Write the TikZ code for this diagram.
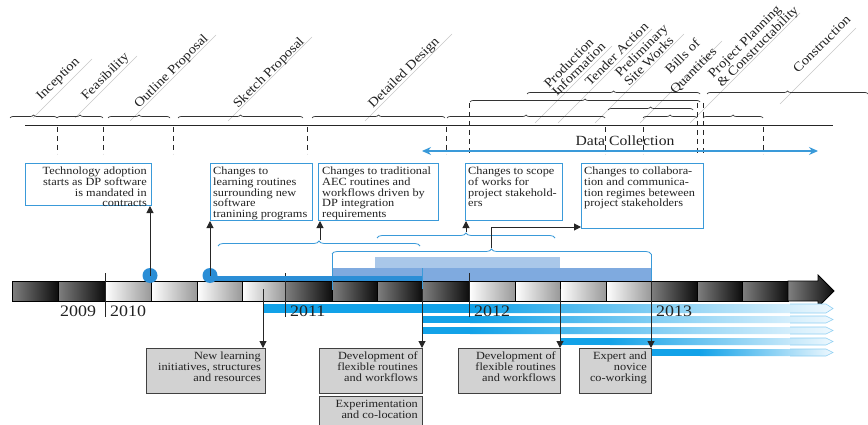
\documentclass[tikz,border=0pt]{standalone}
\usepackage{fontspec}
\setmainfont{Liberation Serif}[FakeStretch=1.12]
\usetikzlibrary{decorations.pathreplacing,arrows.meta,calc}
\definecolor{bblue}{HTML}{3A9AD9}
\definecolor{dotblue}{HTML}{2B8ED6}
\definecolor{lightreg}{HTML}{A9C7E9}
\definecolor{medreg}{HTML}{7FAADF}
\definecolor{barblue}{HTML}{12A2E8}
\definecolor{barpale}{HTML}{EEF8FE}
\definecolor{barline}{HTML}{8FCFF2}
\definecolor{gbox}{HTML}{D2D2D2}
\definecolor{txt}{HTML}{222222}
\begin{document}
\begin{tikzpicture}[x=1pt,y=-1pt,
  hdrbrace/.style={decorate, decoration={brace, amplitude=3pt}, line width=0.7pt, black!80},
  bluebrace/.style={decorate, decoration={brace, amplitude=5pt}, line width=0.8pt, bblue},
  phasetxt/.style={rotate=45, anchor=base west, inner sep=0, font=\fontsize{13}{13}\selectfont, text=txt},
  faint/.style={black!22, line width=0.4pt},
  vdash/.style={dash pattern=on 5pt off 4pt, line width=0.8pt, black!85},
  bluebox/.style={draw=bblue, line width=1pt, fill=white, anchor=north west, inner sep=0},
  boxtxt/.style={inner sep=0, font=\fontsize{11}{10.6}\selectfont, text=txt},
  graybox/.style={draw=black!75, fill=gbox, line width=1pt, anchor=north west, inner sep=0},
  darkseg/.style={left color=black!50, right color=black!95, draw=black, line width=0.8pt},
  lightseg/.style={left color=white, right color=black!40, draw=black, line width=0.8pt},
  arr/.style={-{Triangle[length=7pt,width=7pt]}, line width=1pt, black!85},
  yeartxt/.style={anchor=base west, inner sep=0, font=\fontsize{16}{16}\selectfont, text=txt},
  bluevert/.style={bblue, line width=1pt}
]
\useasboundingbox (0,0) rectangle (868,425);

% ---------------- header: phases ----------------
\draw[faint] (33,118) -- (92,59);
\draw[faint] (75,118) -- (137,56);
\draw[faint] (130,121) -- (216,35);
\draw[faint] (228,121) -- (312,37);
\draw[faint] (365,121) -- (452,34);
\draw[faint] (535,123) -- (612,46);
\draw[faint] (558,123) -- (652,29);
\draw[faint] (595,123) -- (684,34);
\draw[faint] (640,123) -- (722,41);
\draw[faint] (690,123) -- (800,13);
\draw[faint] (780,104) -- (856,28);

\node[phasetxt] (pInc) at (41,101) {Inception};
\node[phasetxt] (pFea) at (86,101) {Feasibility};
\node[phasetxt] (pOut) at (139,109) {Outline Proposal};
\node[phasetxt] (pSke) at (238,109) {Sketch Proposal};
\node[phasetxt] (pDet) at (373,109) {Detailed Design};
\node[phasetxt] (pPro1) at (549,89) {Production};
\node[phasetxt] (pPro2) at (557,97) {Information};
\node[phasetxt] (pTen) at (590,87) {Tender Action};
\node[phasetxt] (pPre1) at (620,78) {Preliminary};
\node[phasetxt] (pPre2) at (629,87) {Site Works};
\node[phasetxt] (pBil1) at (670,75) {Bills of};
\node[phasetxt] (pBil2) at (675,95) {Quantities};
\node[phasetxt] (pPrj1) at (713,79) {Project Planning};
\node[phasetxt] (pPrj2) at (722,88) {\& Constructability};
\node[phasetxt] (pCon) at (798,74) {Construction};

\draw[hdrbrace] (10,118) -- (57,118);
\draw[hdrbrace] (57,118) -- (103,118);
\draw[hdrbrace] (108,118) -- (170,118);
\draw[hdrbrace] (178,118) -- (303,118);
\draw[hdrbrace] (312,118) -- (445,118);
\draw[hdrbrace] (447,118) -- (605,118);
\draw[hdrbrace] (643,118) -- (697,118);
\draw[hdrbrace] (703,118) -- (763,118);
\draw[hdrbrace] (608,110) -- (693,110);
\draw[hdrbrace] (470,102) -- (700,102);
\draw[hdrbrace] (527,94) -- (700,94);
\draw[hdrbrace] (707,94) -- (868,94);

\draw[black!85, line width=1pt] (25,126) -- (833,126);

\foreach \x in {57,103,173,307,446,605,643,763}
  \draw[vdash] (\x,127) -- (\x,154);
\foreach \x in {469,697,703}
  \draw[vdash] (\x,103) -- (\x,154);

% Data collection
\coordinate (dcL) at (422,151);
\coordinate (dcR) at (818,151);
\draw[bblue, line width=1.2pt, {Stealth[length=9pt,width=8pt]}-{Stealth[length=9pt,width=8pt]}] (dcL) -- (dcR);
\node[anchor=base, inner sep=0, font=\fontsize{14}{14}\selectfont, text=txt] (dclab) at (625,146) {Data Collection};

% ---------------- blue boxes ----------------
\node[bluebox, minimum width=126pt, minimum height=42pt] (b1) at (25,163) {};
\node[boxtxt, align=right, anchor=north east] (t1) at (147,167) {Technology adoption\\starts as DP software\\is mandated in\\contracts};
\node[bluebox, minimum width=102pt, minimum height=57pt] (b2) at (210,163) {};
\node[boxtxt, align=left, anchor=north west] (t2) at (213,167) {Changes to\\learning routines\\surrounding new\\software\\tranining programs};
\node[bluebox, minimum width=120pt, minimum height=57pt] (b3) at (318,163) {};
\node[boxtxt, align=left, anchor=north west] (t3) at (322,167) {Changes to traditional\\AEC routines and\\workflows driven by\\DP integration\\requirements};
\node[bluebox, minimum width=97pt, minimum height=57pt] (b4) at (465,163) {};
\node[boxtxt, align=left, anchor=north west] (t4) at (468,167) {Changes to scope\\of works for\\project stakehold-\\ers};
\node[bluebox, minimum width=122pt, minimum height=65pt] (b5) at (581,163) {};
\node[boxtxt, align=left, anchor=north west] (t5) at (584,167) {Changes to collabora-\\tion and communica-\\tion regimes beteween\\project stakeholders};

% ---------------- blue regions above bar ----------------
\fill[lightreg] (375,257) rectangle (560,268);
\fill[medreg] (332,268) rectangle (651,281);
\draw[bluebrace] (218,246) -- (420,246);
\draw[bluebrace] (377,238) -- (555,238);
\draw[bluebrace] (332,254) -- (651,254);
\coordinate (brA) at (320,240);
\coordinate (brB) at (466,232);
\coordinate (brC) at (491,248);

% ---------------- timeline bar ----------------
\foreach \a/\b in {12/58,58/105,285/332,332/377,377/422,422/469,651/697,697/742,742/788}
  \shadedraw[darkseg] (\a,281) rectangle (\b,301);
\foreach \a/\b in {105/151,151/197,197/242,242/285,469/515,515/560,560/606,606/651}
  \shadedraw[lightseg] (\a,281) rectangle (\b,301);
\shadedraw[darkseg] (788,281) -- (818,281) -- (818,275) -- (834,291) -- (818,307) -- (818,301) -- (788,301) -- cycle;

% ---------------- lower bars ----------------
\foreach \x/\s/\ya/\yb in {263/470/304/313, 422/470/316/323, 422/470/327/334, 560/610/338/345, 651/700/349/356}{
  \fill[barblue] (\x,\ya) rectangle (\s,\yb);
  \shade[left color=barblue, right color=barpale] (\s,\ya) -- (826,\ya) -- (833,{(\ya+\yb)/2}) -- (826,\yb) -- (\s,\yb) -- cycle;
  \draw[barline, line width=0.6pt] (790,\ya) -- (826,\ya) -- (833,{(\ya+\yb)/2}) -- (826,\yb) -- (790,\yb);
}

% year ticks and labels
\foreach \x in {105,285,469}
  \draw[black!85, line width=0.9pt] (\x,273) -- (\x,317);
\node[yeartxt] (y09) at (60,316) {2009};
\node[yeartxt] (y10) at (110,316) {2010};
\node[yeartxt] (y11) at (290,316) {2011};
\node[yeartxt] (y12) at (474,316) {2012};
\node[yeartxt] (y13) at (656,316) {2013};

% blue verticals and line
\draw[bluevert] (332,254) -- (332,290);
\draw[bluevert] (651,254) -- (651,300);
\draw[bluevert] (422,268) -- (422,292);
\draw[dotblue, line width=5pt] (210,278) -- (422,278);
\node[circle, fill=dotblue, minimum size=15pt, inner sep=0] (dot1) at (150,275.5) {};
\node[circle, fill=dotblue, minimum size=15pt, inner sep=0] (dot2) at (210,275.5) {};

% ---------------- gray boxes ----------------
\node[graybox, minimum width=119pt, minimum height=45pt] (g1) at (146,348) {};
\node[boxtxt, align=right, anchor=north east] (gt1) at (261,352) {New learning\\initiatives, structures\\and resources};
\node[graybox, minimum width=103pt, minimum height=45pt] (g2) at (319,348) {};
\node[boxtxt, align=right, anchor=north east] (gt2) at (418,352) {Development of\\flexible routines\\and workflows};
\node[graybox, minimum width=103pt, minimum height=34pt] (g3) at (319,396) {};
\node[boxtxt, align=right, anchor=north east] (gt3) at (418,400) {Experimentation\\and co-location};
\node[graybox, minimum width=102pt, minimum height=45pt] (g4) at (458,348) {};
\node[boxtxt, align=right, anchor=north east] (gt4) at (556,352) {Development of\\flexible routines\\and workflows};
\node[graybox, minimum width=72pt, minimum height=45pt] (g5) at (579,348) {};
\node[boxtxt, align=right, anchor=north east] (gt5) at (647,352) {Expert and\\novice\\co-working};

% ---------------- arrows ----------------
\draw[arr] (dot1.center) -- (dot1.center |- b1.south);
\draw[arr] (dot2.center) -- (dot2.center |- b2.south);
\draw[arr] (brA) -- (brA |- b3.south);
\draw[arr] (brB) -- (brB |- b4.south);
\draw[arr] (brC) |- (b5.west |- 0,227);
\coordinate (d1) at (263,289);
\coordinate (d2) at (422,289);
\coordinate (d3) at (560,289);
\coordinate (d4) at (651,281);
\draw[arr] (d1) -- (d1 |- g1.north);
\draw[arr] (d2) -- (d2 |- g2.north);
\draw[arr] (d3) -- (d3 |- g4.north);
\draw[arr] (d4) -- (d4 |- g5.north);
\end{tikzpicture}
\end{document}
